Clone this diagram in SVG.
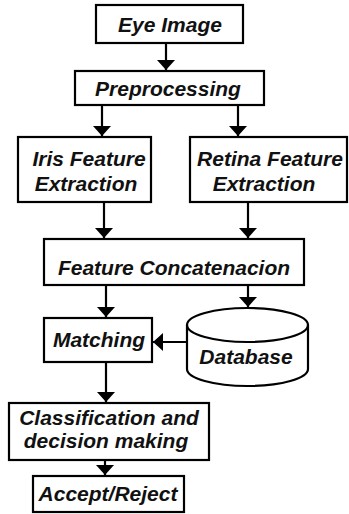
<svg xmlns="http://www.w3.org/2000/svg" width="349" height="514" viewBox="0 0 349 514">
<style>
.box{fill:#fff;stroke:#000;stroke-width:2.2}
.t{font-family:"Liberation Sans",Arial,sans-serif;font-weight:bold;font-style:italic;font-size:21px;fill:#111;text-anchor:middle}
.c{stroke:#000;stroke-width:2.2;fill:none}
</style>
<defs>
<marker id="ah" markerUnits="userSpaceOnUse" markerWidth="11" markerHeight="20" refX="10" refY="10" orient="auto" viewBox="0 0 11 20">
<path d="M0,1 L10,10 L0,19 z" fill="#000"/>
</marker>
</defs>
<rect width="349" height="514" fill="#fff"/>
<g id="connectors">
<line class="c" x1="166" y1="43" x2="166" y2="70" marker-end="url(#ah)"/>
<line class="c" x1="102" y1="105" x2="102" y2="136" marker-end="url(#ah)"/>
<line class="c" x1="238" y1="105" x2="238" y2="136" marker-end="url(#ah)"/>
<line class="c" x1="104" y1="202" x2="104" y2="238" marker-end="url(#ah)"/>
<line class="c" x1="248" y1="202" x2="248" y2="238" marker-end="url(#ah)"/>
<line class="c" x1="106" y1="285" x2="106" y2="317" marker-end="url(#ah)"/>
<line class="c" x1="248" y1="285" x2="248" y2="307" marker-end="url(#ah)"/>
<line class="c" x1="186" y1="342" x2="153" y2="342" marker-end="url(#ah)"/>
<line class="c" x1="106" y1="362" x2="106" y2="402" marker-end="url(#ah)"/>
<line class="c" x1="105" y1="460" x2="105" y2="475" marker-end="url(#ah)"/>
</g>
<g id="eye-image"><rect class="box" x="96" y="5" width="147" height="38"/><text class="t" x="170" y="32">Eye Image</text></g>
<g id="preprocessing"><rect class="box" x="75" y="71" width="189" height="34"/><text class="t" x="168" y="96">Preprocessing</text></g>
<g id="iris"><rect class="box" x="18" y="137" width="133" height="65"/><text class="t" x="89" y="166">Iris Feature</text><text class="t" x="86" y="191">Extraction</text></g>
<g id="retina"><rect class="box" x="190" y="137" width="157" height="65"/><text class="t" x="270" y="166">Retina Feature</text><text class="t" x="264" y="191">Extraction</text></g>
<g id="concat"><rect class="box" x="44" y="239" width="260" height="46"/><text class="t" x="174" y="275">Feature Concatenacion</text></g>
<g id="matching"><rect class="box" x="44" y="318" width="108" height="44"/><text class="t" x="99" y="347">Matching</text></g>
<g id="database">
<path class="box" d="M187,325 L187,369 A60.5,17 0 0 0 308,369 L308,325 A60.5,17 0 0 0 187,325 Z"/>
<path class="c" d="M187,325 A60.5,17 0 0 0 308,325"/>
<text class="t" x="246" y="364">Database</text>
</g>
<g id="classification"><rect class="box" x="9" y="403" width="200" height="57"/><text class="t" x="109" y="425">Classification and</text><text class="t" x="106" y="448">decision making</text></g>
<g id="accept"><rect class="box" x="33" y="476" width="151" height="36"/><text class="t" x="108" y="501">Accept/Reject</text></g>
</svg>
